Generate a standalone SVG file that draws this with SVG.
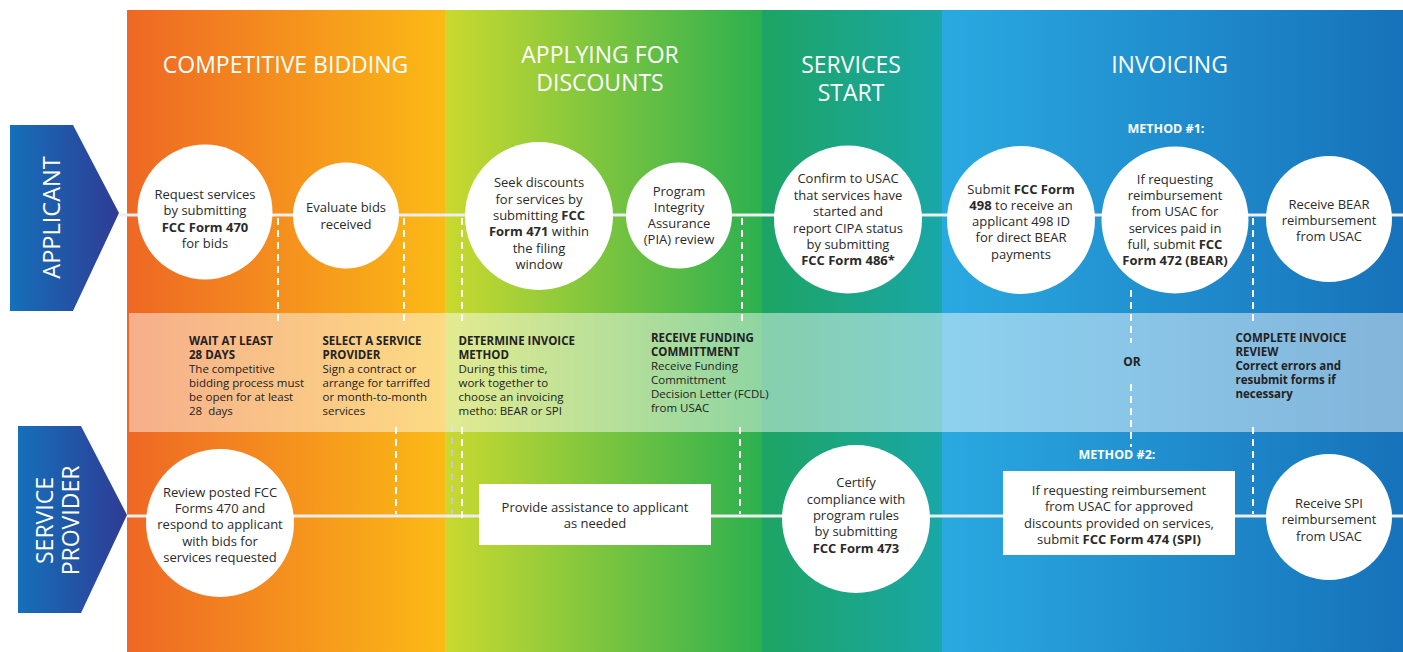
<svg xmlns="http://www.w3.org/2000/svg" width="1403" height="652" viewBox="0 0 1403 652">
<defs>
<linearGradient id="gOrange" x1="0" y1="0" x2="1" y2="0"><stop offset="0" stop-color="#EE6724"/><stop offset="1" stop-color="#FBBA16"/></linearGradient>
<linearGradient id="gGreen" x1="0" y1="0" x2="1" y2="0"><stop offset="0" stop-color="#CAD92F"/><stop offset="1" stop-color="#2CB04F"/></linearGradient>
<linearGradient id="gTeal" x1="0" y1="0" x2="1" y2="0"><stop offset="0" stop-color="#1DA463"/><stop offset="1" stop-color="#19A7A8"/></linearGradient>
<linearGradient id="gBlue" x1="0" y1="0" x2="1" y2="0"><stop offset="0" stop-color="#2AA9E1"/><stop offset="1" stop-color="#1672BA"/></linearGradient>
<linearGradient id="gLane" x1="0" y1="0" x2="1" y2="0"><stop offset="0" stop-color="#1570BA"/><stop offset="1" stop-color="#2F3B94"/></linearGradient>
<style>
text{font-family:"Open Sans","Noto Sans","Liberation Sans",sans-serif;}
.hdr{fill:#fff;font-size:23px;text-anchor:middle;}
.lane{fill:#fff;font-size:23.5px;text-anchor:middle;}
.nt{fill:#2a2a2a;font-size:13px;text-anchor:middle;}
.b{font-weight:bold;}
.band{fill:#222;font-size:11.5px;}
.meth{fill:#fff;font-size:12.5px;font-weight:bold;text-anchor:middle;}
.node{fill:#fff;}
.line{stroke:#EEEEEE;stroke-width:3;fill:none;}
.dash{stroke:#fff;stroke-width:2;stroke-dasharray:7 5;fill:none;}
.dashg{stroke:#C9C6D6;stroke-width:2;stroke-dasharray:7 5;fill:none;}
</style>
</defs>
<g id="background">
<rect x="127" y="10" width="318" height="642" fill="url(#gOrange)"/>
<rect x="445" y="10" width="317" height="642" fill="url(#gGreen)"/>
<rect x="762" y="10" width="180" height="642" fill="url(#gTeal)"/>
<rect x="942" y="10" width="461" height="642" fill="url(#gBlue)"/>
</g>
<g id="headers">
<text class="hdr" x="285.5" y="73">COMPETITIVE BIDDING</text>
<text class="hdr" x="600" y="63">APPLYING FOR</text>
<text class="hdr" x="600" y="91">DISCOUNTS</text>
<text class="hdr" x="851" y="73">SERVICES</text>
<text class="hdr" x="851" y="101">START</text>
<text class="hdr" x="1169.5" y="73">INVOICING</text>
<text class="meth" x="1166" y="133">METHOD #1:</text>
<text class="meth" x="1117" y="459">METHOD #2:</text>
</g>
<g id="lane-applicant">
<polygon points="10,125 73,125 119,213 73,311 10,311" fill="url(#gLane)"/>
<text class="lane" transform="translate(60,217.5) rotate(-90)">APPLICANT</text>
</g>
<g id="lane-service-provider">
<polygon points="18,426 81,426 127,515 81,613 18,613" fill="url(#gLane)"/>
<text class="lane" style="font-size:23px" transform="translate(53,520.5) rotate(-90)">SERVICE</text>
<text class="lane" style="font-size:23px" transform="translate(79,520.5) rotate(-90)">PROVIDER</text>
</g>
<g id="connectors">
<line class="line" x1="119" y1="215" x2="1403" y2="215"/>
<line class="line" x1="127" y1="516" x2="1403" y2="516"/>
<path class="dash" d="M278 218V322M404 218V322M462 218V322M742 218V322M1253 218V322"/>
<path class="dash" d="M1131 290V343M1131 384V447"/>
<path class="dash" d="M396 427V514M462 427V518M740 427V514M1253 427V514"/>
<path class="dashg" d="M452 425V514"/>
</g>
<g id="band">
<rect x="129" y="313" width="1274" height="119" fill="#fff" fill-opacity="0.47"/>
</g>
<g id="band-wait">
<text class="band" x="189" y="345" xml:space="preserve"><tspan class="b">WAIT AT LEAST</tspan><tspan class="b" x="189" dy="14">28 DAYS</tspan><tspan x="189" dy="14">The competitive</tspan><tspan x="189" dy="14">bidding process must</tspan><tspan x="189" dy="14">be open for at least</tspan><tspan x="189" dy="14">28  days</tspan></text>
</g>
<g id="band-select">
<text class="band" x="322.5" y="345"><tspan class="b">SELECT A SERVICE</tspan><tspan class="b" x="322.5" dy="14">PROVIDER</tspan><tspan x="322.5" dy="14">Sign a contract or</tspan><tspan x="322.5" dy="14">arrange for tarriffed</tspan><tspan x="322.5" dy="14">or month-to-month</tspan><tspan x="322.5" dy="14">services</tspan></text>
</g>
<g id="band-determine">
<text class="band" x="458.5" y="345"><tspan class="b">DETERMINE INVOICE</tspan><tspan class="b" x="458.5" dy="14">METHOD</tspan><tspan x="458.5" dy="14">During this time,</tspan><tspan x="458.5" dy="14">work together to</tspan><tspan x="458.5" dy="14">choose an invoicing</tspan><tspan x="458.5" dy="14">metho: BEAR or SPI</tspan></text>
</g>
<g id="band-funding">
<text class="band" x="651" y="342"><tspan class="b">RECEIVE FUNDING</tspan><tspan class="b" x="651" dy="14">COMMITTMENT</tspan><tspan x="651" dy="14">Receive Funding</tspan><tspan x="651" dy="14">Committment</tspan><tspan x="651" dy="14">Decision Letter (FCDL)</tspan><tspan x="651" dy="14">from USAC</tspan></text>
</g>
<g id="band-or">
<text class="band b" x="1132" y="366" style="font-size:12px;text-anchor:middle">OR</text>
</g>
<g id="band-review">
<text class="band b" x="1235.5" y="342"><tspan>COMPLETE INVOICE</tspan><tspan x="1235.5" dy="14">REVIEW</tspan><tspan x="1235.5" dy="14">Correct errors and</tspan><tspan x="1235.5" dy="14">resubmit forms if</tspan><tspan x="1235.5" dy="14">necessary</tspan></text>
</g>
<g id="n-request">
<circle class="node" cx="205" cy="212" r="67.5"/>
<text class="nt" x="205" y="199">Request services<tspan x="205" y="215">by submitting</tspan><tspan class="b" x="205" y="232">FCC Form 470</tspan><tspan x="205" y="248">for bids</tspan></text>
</g>
<g id="n-evaluate">
<circle class="node" cx="346" cy="215.5" r="53"/>
<text class="nt" x="346" y="212">Evaluate bids<tspan x="346" y="229">received</tspan></text>
</g>
<g id="n-seek">
<circle class="node" cx="539" cy="216" r="74"/>
<text class="nt" x="539" y="187">Seek discounts<tspan x="539" y="204">for services by</tspan><tspan x="539" y="220">submitting <tspan class="b">FCC</tspan></tspan><tspan x="539" y="236"><tspan class="b">Form 471</tspan> within</tspan><tspan x="539" y="253">the filing</tspan><tspan x="539" y="269">window</tspan></text>
</g>
<g id="n-pia">
<circle class="node" cx="679" cy="215.5" r="53"/>
<text class="nt" x="679" y="196">Program<tspan x="679" y="212">Integrity</tspan><tspan x="679" y="228">Assurance</tspan><tspan x="679" y="244">(PIA) review</tspan></text>
</g>
<g id="n-confirm">
<circle class="node" cx="848" cy="219.5" r="74"/>
<text class="nt" x="848" y="183">Confirm to USAC<tspan x="848" y="200">that services have</tspan><tspan x="848" y="216">started and</tspan><tspan x="848" y="233">report CIPA status</tspan><tspan x="848" y="249">by submitting</tspan><tspan class="b" x="848" y="265">FCC Form 486*</tspan></text>
</g>
<g id="n-submit498">
<circle class="node" cx="1021" cy="220" r="74"/>
<text class="nt" x="1021" y="194">Submit <tspan class="b">FCC Form</tspan><tspan x="1021" y="210"><tspan class="b">498</tspan> to receive an</tspan><tspan x="1021" y="226">applicant 498 ID</tspan><tspan x="1021" y="242">for direct BEAR</tspan><tspan x="1021" y="259">payments</tspan></text>
</g>
<g id="n-bear-request">
<circle class="node" cx="1175" cy="220" r="73.5"/>
<text class="nt" x="1175" y="184">If requesting<tspan x="1175" y="200">reimbursement</tspan><tspan x="1175" y="216">from USAC for</tspan><tspan x="1175" y="233">services paid in</tspan><tspan x="1175" y="249">full, submit <tspan class="b">FCC</tspan></tspan><tspan class="b" x="1175" y="265">Form 472 (BEAR)</tspan></text>
</g>
<g id="n-bear-receive">
<circle class="node" cx="1329" cy="219" r="63"/>
<text class="nt" x="1329" y="209">Receive BEAR<tspan x="1329" y="225">reimbursement</tspan><tspan x="1329" y="241">from USAC</tspan></text>
</g>
<g id="n-review">
<circle class="node" cx="220" cy="523" r="74"/>
<text class="nt" x="220" y="497">Review posted FCC<tspan x="220" y="513">Forms 470 and</tspan><tspan x="220" y="529">respond to applicant</tspan><tspan x="220" y="546">with bids for</tspan><tspan x="220" y="562">services requested</tspan></text>
</g>
<g id="n-assist">
<rect class="node" x="479" y="484" width="232" height="61"/>
<text class="nt" x="595" y="512">Provide assistance to applicant<tspan x="595" y="528">as needed</tspan></text>
</g>
<g id="n-certify">
<circle class="node" cx="856" cy="519" r="74"/>
<text class="nt" x="856" y="487">Certify<tspan x="856" y="504">compliance with</tspan><tspan x="856" y="520">program rules</tspan><tspan x="856" y="536">by submitting</tspan><tspan class="b" x="856" y="553">FCC Form 473</tspan></text>
</g>
<g id="n-spi-request">
<rect class="node" x="1003" y="471" width="232" height="84"/>
<text class="nt" x="1119" y="495">If requesting reimbursement<tspan x="1119" y="511">from USAC for approved</tspan><tspan x="1119" y="528">discounts provided on services,</tspan><tspan x="1119" y="544">submit <tspan class="b">FCC Form 474 (SPI)</tspan></tspan></text>
</g>
<g id="n-spi-receive">
<circle class="node" cx="1329" cy="517" r="63"/>
<text class="nt" x="1329" y="508">Receive SPI<tspan x="1329" y="524">reimbursement</tspan><tspan x="1329" y="541">from USAC</tspan></text>
</g>
</svg>
